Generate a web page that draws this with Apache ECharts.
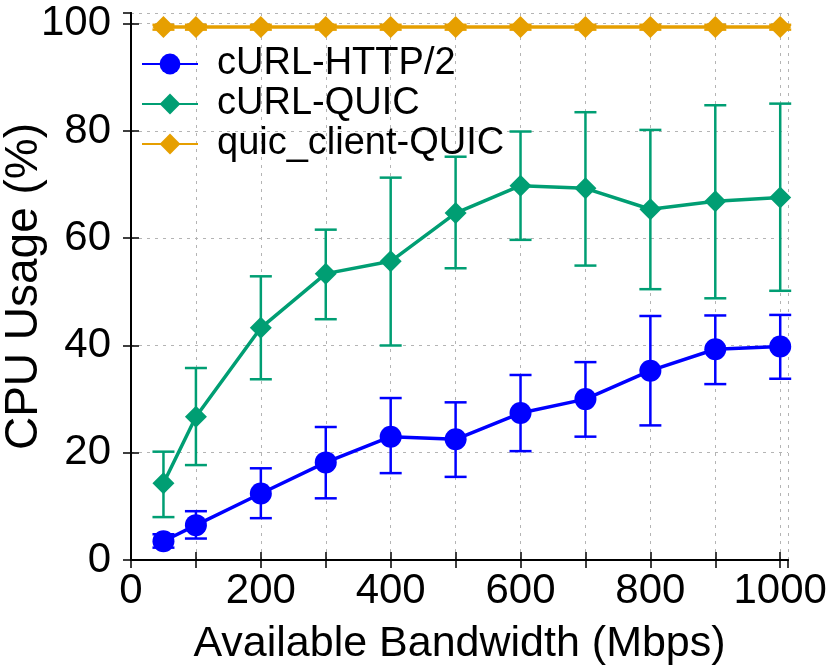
<!DOCTYPE html>
<html>
<head>
<meta charset="utf-8">
<script src="https://cdn.jsdelivr.net/npm/echarts@6/dist/echarts.min.js"></script>
<style>
  html, body { margin: 0; padding: 0; background: #fff; }
  #chart { width: 830px; height: 670px; }
</style>
</head>
<body>
<div id="chart"></div>
<script>
// bandwidth (Mbps) on x
var bandwidth = [50, 100, 200, 300, 400, 500, 600, 700, 800, 900, 1000];

// cURL-HTTP/2
var http2Mean = [3.5, 6.5, 12.4, 18.2, 23.0, 22.5, 27.4, 30.0, 35.3, 39.3, 39.8];
var http2Low  = [2.3, 4.0, 7.8, 11.5, 16.2, 15.5, 20.3, 23.0, 25.1, 32.8, 33.8];
var http2High = [4.8, 9.1, 17.1, 24.8, 30.2, 29.4, 34.5, 36.9, 45.5, 45.6, 45.7];

// cURL-QUIC
var quicMean = [14.3, 26.7, 43.3, 53.4, 55.7, 64.7, 69.8, 69.3, 65.4, 66.9, 67.6];
var quicLow  = [8.0, 17.7, 33.7, 44.9, 40.0, 54.4, 59.7, 54.9, 50.5, 48.8, 50.2];
var quicHigh = [20.2, 35.8, 52.9, 61.6, 71.3, 75.2, 79.9, 83.5, 80.2, 84.8, 85.1];

// quic_client-QUIC
var clientMean = [99.4, 99.4, 99.4, 99.4, 99.4, 99.4, 99.4, 99.4, 99.4, 99.4, 99.4];
var clientLow  = [98.9, 98.9, 98.9, 98.9, 98.9, 98.9, 98.9, 98.9, 98.9, 98.9, 98.9];
var clientHigh = [99.8, 99.8, 99.8, 99.8, 99.8, 99.8, 99.8, 99.8, 99.8, 99.8, 99.8];

var yTicks = [0, 20, 40, 60, 80, 100];
var xTicks = [0, 200, 400, 600, 800, 1000];

var FONT = 'Liberation Sans';
var BLUE = '#0000ff', GREEN = '#009e73', ORANGE = '#e69f00';

function pairs(ys) {
  return bandwidth.map(function (x, i) { return [x, ys[i]]; });
}
function bars(lo, hi) {
  return bandwidth.map(function (x, i) { return [x, lo[i], hi[i]]; });
}

function errorBar(color) {
  return function (params, api) {
    var x = api.value(0);
    var lo = api.coord([x, api.value(1)]);
    var hi = api.coord([x, api.value(2)]);
    var w = 11;
    var st = { stroke: color, lineWidth: 2.5 };
    return {
      type: 'group',
      children: [
        { type: 'line', shape: { x1: lo[0], y1: lo[1], x2: hi[0], y2: hi[1] }, style: st },
        { type: 'line', shape: { x1: lo[0] - w, y1: lo[1], x2: lo[0] + w, y2: lo[1] }, style: st },
        { type: 'line', shape: { x1: hi[0] - w, y1: hi[1], x2: hi[0] + w, y2: hi[1] }, style: st }
      ]
    };
  };
}

var chart = echarts.init(document.getElementById('chart'));

var gridLine = { show: true, lineStyle: { color: '#b4b4b4', type: [3, 5], width: 1 } };
var blackLine = { show: true, lineStyle: { color: '#000', width: 2 } };
var inTick = { show: true, inside: true, length: 8, lineStyle: { color: '#000', width: 1.5 } };

var option = {
  animation: false,
  grid: { left: 131, right: 42, top: 13, bottom: 110, outerBoundsMode: 'none' },
  legend: {
    data: ['cURL-HTTP/2', 'cURL-QUIC', 'quic_client-QUIC'],
    orient: 'vertical',
    left: 136,
    top: 39,
    itemWidth: 56,
    itemHeight: 26,
    itemGap: 0,
    textStyle: { fontFamily: FONT, fontSize: 38, color: '#000', padding: [0, 0, 0, 14], lineHeight: 40 }
  },
  xAxis: [{
    type: 'value',
    min: 0,
    max: 1012,
    interval: 100,
    name: 'Available Bandwidth (Mbps)',
    nameLocation: 'middle',
    nameGap: 63,
    nameMoveOverlap: false,
    nameTextStyle: { fontFamily: FONT, fontSize: 43, color: '#000' },
    axisLine: blackLine,
    axisTick: inTick,
    splitLine: gridLine,
    axisLabel: {
      fontFamily: FONT, fontSize: 42, color: '#000', margin: 10, showMaxLabel: false,
      formatter: function (v) { return xTicks.indexOf(v) >= 0 ? String(v) : ''; }
    }
  }, {
    type: 'value',
    position: 'top',
    min: 0,
    max: 1012,
    interval: 100,
    axisLine: blackLine,
    axisTick: inTick,
    splitLine: { show: false },
    axisLabel: { show: false }
  }],
  yAxis: [{
    type: 'value',
    min: 0,
    max: 102,
    interval: 20,
    name: 'CPU Usage (%)',
    nameLocation: 'middle',
    nameGap: 84,
    nameMoveOverlap: false,
    nameTextStyle: { fontFamily: FONT, fontSize: 46, color: '#000' },
    axisLine: blackLine,
    axisTick: inTick,
    splitLine: gridLine,
    axisLabel: {
      fontFamily: FONT, fontSize: 42, color: '#000', margin: 20, showMaxLabel: false,
      formatter: function (v) { return yTicks.indexOf(v) >= 0 ? String(v) : ''; }
    }
  }, {
    type: 'value',
    position: 'right',
    min: 0,
    max: 102,
    interval: 20,
    axisLine: blackLine,
    axisTick: inTick,
    splitLine: { show: false },
    axisLabel: { show: false }
  }],
  series: [
    {
      type: 'custom', name: 'http2-err', renderItem: errorBar(BLUE),
      encode: { x: 0, y: [1, 2] }, data: bars(http2Low, http2High), z: 3
    },
    {
      type: 'custom', name: 'quic-err', renderItem: errorBar(GREEN),
      encode: { x: 0, y: [1, 2] }, data: bars(quicLow, quicHigh), z: 3
    },
    {
      type: 'custom', name: 'client-err', renderItem: errorBar(ORANGE),
      encode: { x: 0, y: [1, 2] }, data: bars(clientLow, clientHigh), z: 3
    },
    {
      name: 'cURL-HTTP/2', type: 'line', data: pairs(http2Mean),
      symbol: 'circle', symbolSize: 22, showAllSymbol: true,
      lineStyle: { color: BLUE, width: 3.5 }, itemStyle: { color: BLUE }, z: 4
    },
    {
      name: 'cURL-QUIC', type: 'line', data: pairs(quicMean),
      symbol: 'diamond', symbolSize: 22, showAllSymbol: true,
      lineStyle: { color: GREEN, width: 3.5 }, itemStyle: { color: GREEN }, z: 4
    },
    {
      name: 'quic_client-QUIC', type: 'line', data: pairs(clientMean),
      symbol: 'diamond', symbolSize: 22, showAllSymbol: true,
      lineStyle: { color: ORANGE, width: 3.5 }, itemStyle: { color: ORANGE }, z: 4
    }
  ]
};

chart.setOption(option);
</script>
</body>
</html>
